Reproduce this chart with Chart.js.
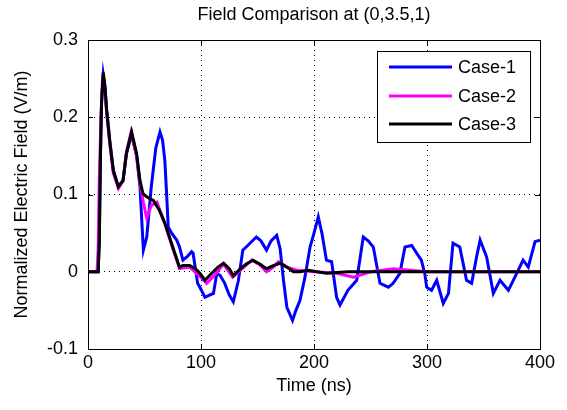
<!DOCTYPE html>
<html><head><meta charset="utf-8">
<script src="https://cdn.jsdelivr.net/npm/chart.js@4"></script>
<style>html,body{margin:0;padding:0;background:#fff;}</style>
</head><body>
<canvas id="c" width="567" height="410"></canvas>
<script>
const chartTitle = 'Field Comparison at (0,3.5,1)';
const xTitle = 'Time (ns)';
const yTitle = 'Normalized Electric Field (V/m)';
const xTicks = [0, 100, 200, 300, 400];
const xTickLabels = ['0', '100', '200', '300', '400'];
const yTicks = [-0.1, 0, 0.1, 0.2, 0.3];
const yTickLabels = ['-0.1', '0', '0.1', '0.2', '0.3'];
const seriesNames = ['Case-1', 'Case-2', 'Case-3'];
const seriesColors = ['#0000ff', '#ff00ff', '#000000'];

const case1Time = [0,9,10,11,12,13.5,15,16.5,19.5,22.4,26.8,31,34,38.6,43,46,49,52,56,60,63.7,66,68,69.6,71,74,78.5,81,84,88,91.7,93,97,99,103.5,108,111,114,117,121,125,128.6,133,137,142,149,153,158,162,167,170,173,176,181,184,187.6,192,196.5,200,203.8,207,211,215.6,220,223,230,237.8,243.6,248,252.5,258.4,265.8,270,276,280.5,286.5,290.9,295,298,299.7,304,308.6,314.4,319,323,329,335,339.5,344,347,352.8,358.7,364.6,372,379.4,385,389.6,395.6,400];
const case1Value = [0,0,0.04,0.15,0.22,0.255,0.24,0.209,0.166,0.131,0.11,0.118,0.153,0.178,0.15,0.11,0.028,0.045,0.11,0.16,0.181,0.17,0.144,0.1,0.058,0.05,0.041,0.032,0.015,0.02,0.026,0.024,-0.015,-0.02,-0.033,-0.03,-0.028,-0.002,-0.005,-0.015,-0.03,-0.039,-0.012,0.028,0.035,0.045,0.04,0.028,0.04,0.047,0.03,-0.011,-0.046,-0.063,-0.05,-0.037,-0.007,0.032,0.05,0.071,0.05,0.015,0.013,-0.033,-0.043,-0.024,-0.011,0.045,0.04,0.032,-0.015,-0.02,-0.015,-0.002,0.032,0.034,0.024,0.015,-0.002,-0.02,-0.024,-0.011,-0.041,-0.028,0.037,0.032,-0.011,-0.015,0.02,0.041,0.019,-0.028,-0.011,-0.024,-0.002,0.015,0.006,0.039,0.041];

const case2Time = [0,8,9,10,11.5,13,15,16.5,19.5,22.4,27,31,34,38,43,46,49,52,56,61,68,75,81,90,99,105,111,120,128,135,145,152,158,164,168.5,176,185,200,220,235,250,270,300,350,400];
const case2Value = [0,0,0.03,0.12,0.2,0.255,0.235,0.205,0.163,0.128,0.108,0.118,0.155,0.18,0.15,0.115,0.09,0.069,0.086,0.09,0.062,0.03,0.004,0.006,-0.006,-0.015,-0.006,0.01,-0.007,0.002,0.015,0.009,0,0.006,0.013,0.006,0.002,0,-0.002,-0.007,0,0.004,0,0,0];

const case3Time = [0,9,10,11,12,13.5,15,16.5,19.5,22.4,26.8,31,34,38.6,43,46,48.7,52,58,63,68,75,81,84,90,95,99,103.5,109.5,115,120,125,128.6,135,140,146,152,158,164,170,176,181.7,187.6,195,211,230,260,300,350,400];
const case3Value = [0,0,0.04,0.15,0.22,0.258,0.24,0.209,0.166,0.131,0.11,0.118,0.153,0.181,0.153,0.118,0.101,0.097,0.092,0.08,0.063,0.032,0.006,0.008,0.008,0.004,-0.002,-0.011,-0.002,0.006,0.011,0.004,-0.005,0.004,0.01,0.015,0.01,0.004,0.008,0.011,0.006,0,0,0.002,-0.002,0,0,0,0,0];

const seriesTimes = [case1Time, case2Time, case3Time];
const seriesValues = [case1Value, case2Value, case3Value];

const FONT = "'Liberation Sans', Arial, sans-serif";
Chart.defaults.font.family = FONT;
Chart.defaults.font.size = 18;
Chart.defaults.color = '#000';

const datasets = seriesNames.map((name, i) => ({
  label: name,
  data: seriesTimes[i].map((t, j) => ({x: t, y: seriesValues[i][j]})),
  borderColor: seriesColors[i],
  backgroundColor: seriesColors[i],
  borderWidth: 3,
  pointRadius: 0,
  tension: 0,
  fill: false,
  order: seriesNames.length - 1 - i
}));

const framePlugin = {
  id: 'matlabFrame',
  afterDatasetsDraw(chart) {
    const ctx = chart.ctx;
    const a = chart.chartArea;
    const xs = chart.scales.x, ys = chart.scales.y;
    ctx.save();
    ctx.strokeStyle = '#000';
    ctx.lineWidth = 1;
    const L = 5;
    ctx.beginPath();
    xTicks.forEach(v => {
      const px = Math.round(xs.getPixelForValue(v)) + 0.5;
      ctx.moveTo(px, a.bottom); ctx.lineTo(px, a.bottom - L);
      ctx.moveTo(px, a.top); ctx.lineTo(px, a.top + L);
    });
    yTicks.forEach(v => {
      const py = Math.round(ys.getPixelForValue(v)) + 0.5;
      ctx.moveTo(a.left, py); ctx.lineTo(a.left + L, py);
      ctx.moveTo(a.right, py); ctx.lineTo(a.right - L, py);
    });
    ctx.stroke();
    ctx.strokeRect(Math.round(a.left) + 0.5, Math.round(a.top) + 0.5, Math.round(a.right - a.left), Math.round(a.bottom - a.top));
    // legend box
    const bx = 377, by = 51, bw = 153, bh = 91;
    ctx.fillStyle = '#fff';
    ctx.fillRect(bx, by, bw, bh);
    ctx.strokeRect(bx + 0.5, by + 0.5, bw, bh);
    const rowY = [67, 96, 124];
    ctx.font = '18px ' + FONT;
    ctx.textBaseline = 'middle';
    ctx.textAlign = 'left';
    chart.data.datasets.forEach((ds, i) => {
      ctx.strokeStyle = ds.borderColor;
      ctx.lineWidth = 3;
      ctx.beginPath();
      ctx.moveTo(389, rowY[i]); ctx.lineTo(452, rowY[i]);
      ctx.stroke();
      ctx.fillStyle = '#000';
      ctx.fillText(ds.label, 458, rowY[i] + 1);
    });
    ctx.restore();
  }
};

new Chart(document.getElementById('c'), {
  type: 'line',
  data: { datasets },
  options: {
    responsive: false,
    animation: false,
    parsing: true,
    layout: { padding: { left: 0, right: 27, top: 0, bottom: 0 } },
    plugins: {
      legend: { display: false },
      tooltip: { enabled: false },
      title: {
        display: true,
        text: chartTitle,
        fullSize: false,
        font: { size: 18, weight: 'normal', family: FONT },
        color: '#000',
        padding: { top: 4, bottom: 14.4 }
      }
    },
    scales: {
      x: {
        type: 'linear',
        min: 0, max: 400,
        afterBuildTicks(s) { s.ticks = xTicks.map(v => ({ value: v })); },
        afterFit(s) { s.height = 61; },
        ticks: {
          autoSkip: false, maxRotation: 0, padding: 3,
          callback: (v, i) => xTickLabels[i]
        },
        grid: { color: '#000', lineWidth: 1, drawTicks: false },
        border: { display: true, color: '#000', width: 1, dash: [1, 4] },
        title: { display: true, text: xTitle, font: { size: 18 }, padding: { top: 0, bottom: 13 } }
      },
      y: {
        type: 'linear',
        min: -0.1, max: 0.3,
        afterBuildTicks(s) { s.ticks = yTicks.map(v => ({ value: v })); },
        afterFit(s) { s.width = 88; },
        ticks: {
          autoSkip: false, padding: 10,
          callback: (v, i) => yTickLabels[i]
        },
        grid: { color: '#000', lineWidth: 1, drawTicks: false },
        border: { display: true, color: '#000', width: 1, dash: [1, 4] },
        title: { display: true, text: yTitle, font: { size: 18 }, padding: { top: 11, bottom: 0 } }
      }
    }
  },
  plugins: [framePlugin]
});
</script>
</body></html>
